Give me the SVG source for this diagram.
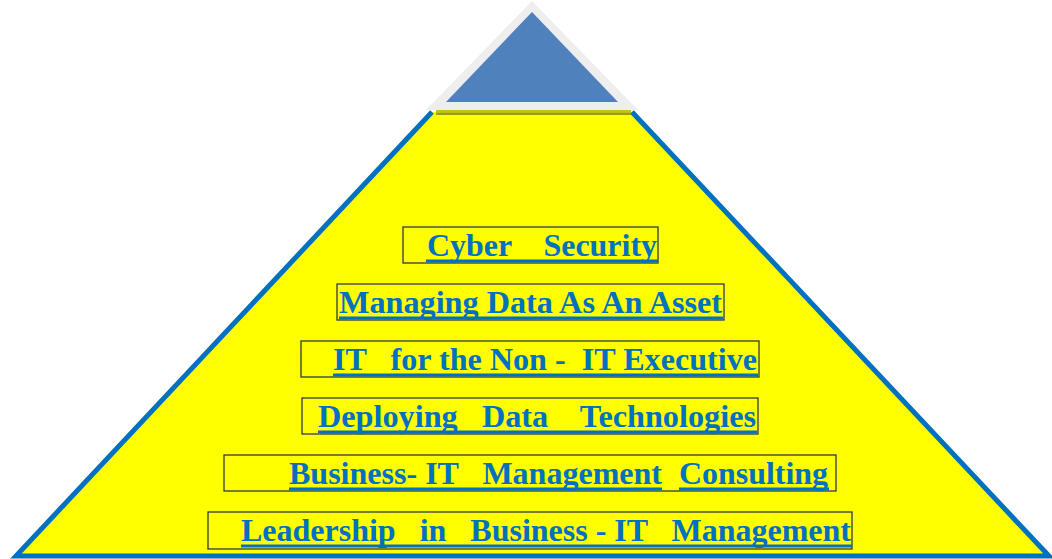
<svg xmlns="http://www.w3.org/2000/svg" width="1052" height="559" viewBox="0 0 1052 559">
<style>
.lbl{font-family:"Liberation Serif","Times New Roman",serif;font-weight:bold;font-size:32px;fill:#0070C0;white-space:pre}
.box{fill:none;stroke:#2F3A4A;stroke-width:1.3}
.ul{fill:#0070C0}
</style>
<rect width="1052" height="559" fill="#FFFFFF"/>
<g id="pyramid">
<polygon points="432,112 632,112 1049,556 16,556" fill="#FFFF00"/>
<polyline points="432,112 16,556 1049,556 632,112" fill="none" stroke="#0070C0" stroke-width="5" stroke-linejoin="miter"/>
<rect x="436" y="110" width="195" height="2.5" fill="#C4C40C"/>
<rect x="436" y="112.5" width="195" height="2.5" fill="#9A9A1C"/>
</g>
<g id="apex">
<polygon points="532,1 426,110 638,110" fill="#EEEEEE"/>
<polygon points="532,12 446,102 618,102" fill="#4F81BD"/>
</g>
<g id="connectors"/>
<g id="node-cyber">
<rect class="box" x="403" y="227" width="255" height="36"/>
<rect class="ul" x="426" y="259.5" width="232" height="3"/>
<text class="lbl" x="427" y="256" textLength="230" lengthAdjust="spacingAndGlyphs">Cyber    Security</text>
</g>
<g id="node-data-asset">
<rect class="box" x="337" y="284" width="387" height="36"/>
<rect class="ul" x="339" y="316.5" width="384" height="3"/>
<text class="lbl" x="339" y="313" textLength="383" lengthAdjust="spacingAndGlyphs">Managing Data As An Asset</text>
</g>
<g id="node-it-exec">
<rect class="box" x="301" y="341" width="458" height="36"/>
<rect class="ul" x="333" y="373.5" width="425" height="3"/>
<text class="lbl" x="333" y="370" textLength="424" lengthAdjust="spacingAndGlyphs">IT   for the Non -  IT Executive</text>
</g>
<g id="node-data-tech">
<rect class="box" x="302" y="398" width="456" height="36"/>
<rect class="ul" x="318" y="430.5" width="439" height="3"/>
<text class="lbl" x="318" y="427" textLength="438" lengthAdjust="spacingAndGlyphs">Deploying   Data    Technologies</text>
</g>
<g id="node-consulting">
<rect class="box" x="224" y="455" width="612" height="36"/>
<rect class="ul" x="289" y="487.5" width="373" height="3"/>
<rect class="ul" x="679" y="487.5" width="150" height="3"/>
<text class="lbl" x="289" y="484" textLength="373" lengthAdjust="spacingAndGlyphs">Business- IT   Management</text>
<text class="lbl" x="679" y="484" textLength="149" lengthAdjust="spacingAndGlyphs">Consulting</text>
</g>
<g id="node-leadership">
<rect class="box" x="208" y="512" width="644" height="37"/>
<rect class="ul" x="241" y="544.5" width="611" height="3"/>
<text class="lbl" x="241" y="541" textLength="610" lengthAdjust="spacingAndGlyphs">Leadership   in   Business - IT   Management</text>
</g>
</svg>
